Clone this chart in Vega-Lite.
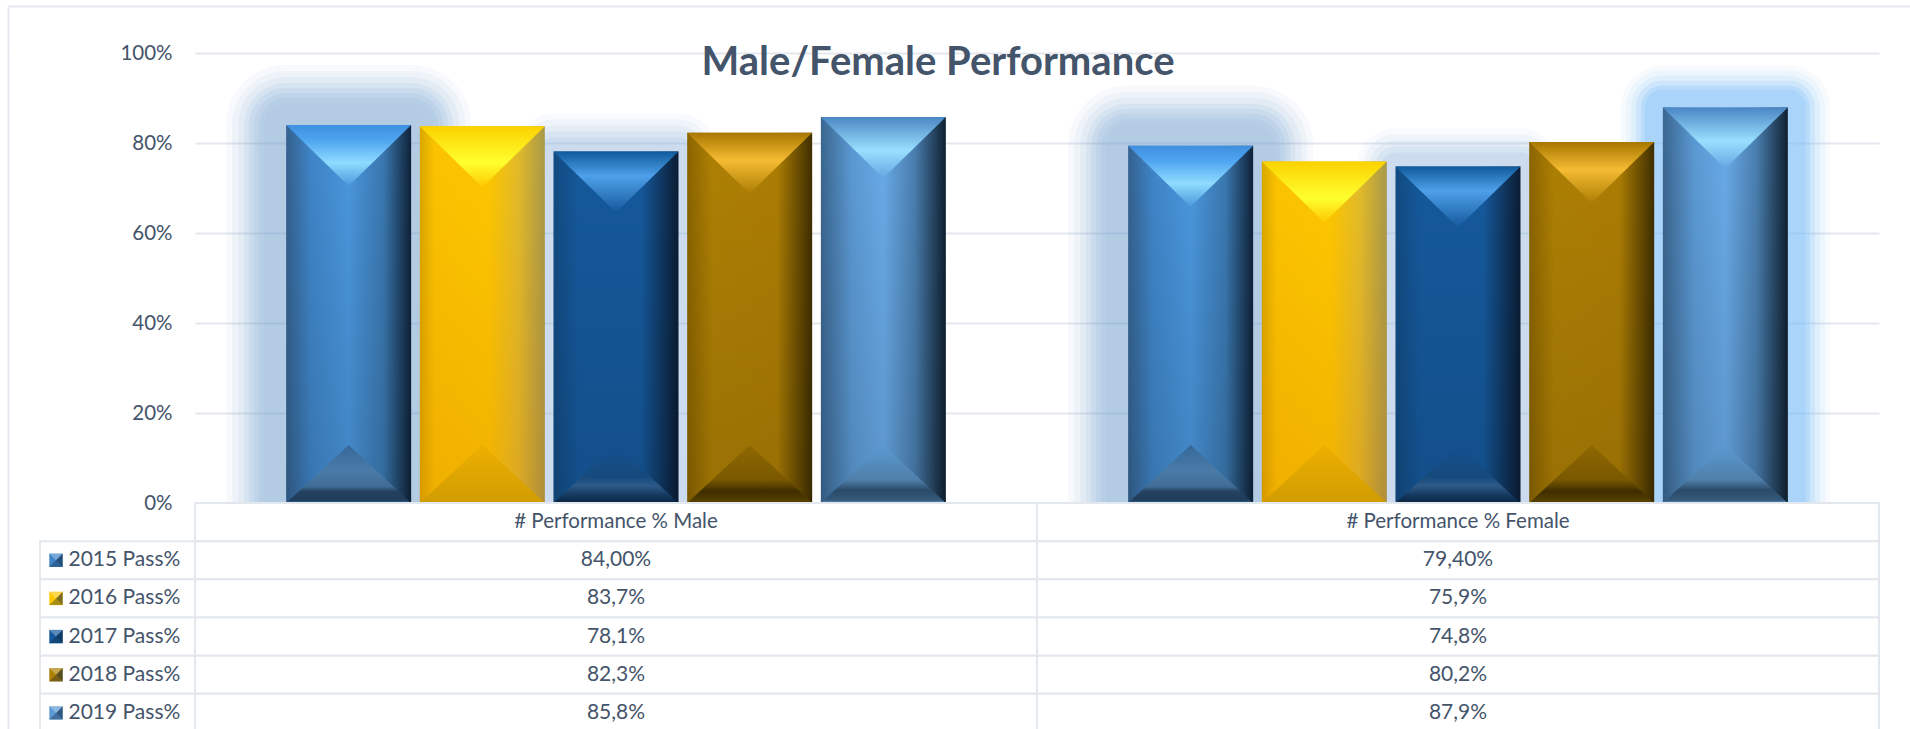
{
"$schema":"https://vega.github.io/schema/vega-lite/v6.json",
"background":"white",
"padding":{"left":8,"top":6,"right":0,"bottom":0},
"config":{"view":{"stroke":null},"font":"Lato"},
"datasets":{
"bars":[
{"category":"# Performance % Male","year":"2015 Pass%","value":0.84,"label":"84,00%"},
{"category":"# Performance % Male","year":"2016 Pass%","value":0.837,"label":"83,7%"},
{"category":"# Performance % Male","year":"2017 Pass%","value":0.781,"label":"78,1%"},
{"category":"# Performance % Male","year":"2018 Pass%","value":0.823,"label":"82,3%"},
{"category":"# Performance % Male","year":"2019 Pass%","value":0.858,"label":"85,8%"},
{"category":"# Performance % Female","year":"2015 Pass%","value":0.794,"label":"79,40%"},
{"category":"# Performance % Female","year":"2016 Pass%","value":0.759,"label":"75,9%"},
{"category":"# Performance % Female","year":"2017 Pass%","value":0.748,"label":"74,8%"},
{"category":"# Performance % Female","year":"2018 Pass%","value":0.802,"label":"80,2%"},
{"category":"# Performance % Female","year":"2019 Pass%","value":0.879,"label":"87,9%"}
],
"table":[
{"category":"# Performance % Male","row":"header","label":"# Performance % Male"},
{"category":"# Performance % Female","row":"header","label":"# Performance % Female"},
{"category":"# Performance % Male","row":"2015 Pass%","label":"84,00%"},
{"category":"# Performance % Male","row":"2016 Pass%","label":"83,7%"},
{"category":"# Performance % Male","row":"2017 Pass%","label":"78,1%"},
{"category":"# Performance % Male","row":"2018 Pass%","label":"82,3%"},
{"category":"# Performance % Male","row":"2019 Pass%","label":"85,8%"},
{"category":"# Performance % Female","row":"2015 Pass%","label":"79,40%"},
{"category":"# Performance % Female","row":"2016 Pass%","label":"75,9%"},
{"category":"# Performance % Female","row":"2017 Pass%","label":"74,8%"},
{"category":"# Performance % Female","row":"2018 Pass%","label":"80,2%"},
{"category":"# Performance % Female","row":"2019 Pass%","label":"87,9%"}
],
"legendRows":[{"year":"2015 Pass%"},{"year":"2016 Pass%"},{"year":"2017 Pass%"},{"year":"2018 Pass%"},{"year":"2019 Pass%"}]
},
"spacing":0,
"bounds":"flush",
"vconcat":[
{"width":1902,"height":47,"data":{"values":[]},
"mark":"rect",
"encoding":{"x":{"field":"a","type":"quantitative","scale":{"domain":[0,1]},"axis":{"orient":"top","title":null,"labels":false,"ticks":false,"grid":false,"domain":true,"domainColor":"#e3e7ee","domainWidth":2}},
"y":{"field":"b","type":"quantitative","scale":{"domain":[0,1]},"axis":{"orient":"left","title":null,"labels":false,"ticks":false,"grid":false,"domain":true,"domainColor":"#e3e7ee","domainWidth":2}}}},
{"columns":4,"spacing":0,"bounds":"flush","concat":[
{"width":32,"height":450,"data":{"values":[]},"mark":"rect","encoding":{"y":{"field":"b","type":"quantitative","scale":{"domain":[0,1]},"axis":{"orient":"left","title":null,"labels":false,"ticks":false,"grid":false,"domain":true,"domainColor":"#e3e7ee","domainWidth":2}}}},
{"width":155,"height":450,"data":{"values":[]},"mark":"rect","encoding":{}},
{"width":1684,"height":450,"data":{"name":"bars"},
"title":{"text":"Male/Female Performance","font":"Lato","fontSize":40,"fontWeight":"bold","color":"#44546a","anchor":"middle","frame":"group","baseline":"middle","dx":-99,"offset":-60},
"encoding":{
"x":{"field":"category","type":"nominal","sort":["# Performance % Male","# Performance % Female"],"axis":null,"scale":{"paddingInner":0.207,"paddingOuter":0.1035}},
"xOffset":{"field":"year","type":"nominal","scale":{"domain":["2015 Pass%","2016 Pass%","2017 Pass%","2018 Pass%","2019 Pass%"],"paddingInner":0.065,"paddingOuter":0.03}},
"y":{"field":"value","type":"quantitative","scale":{"domain":[0,1]},"axis":{"values":[0,0.2,0.4,0.6,0.8,1],"format":".0%","title":null,"domain":false,"ticks":false,"labelFont":"Lato","labelFontSize":20.5,"labelColor":"#44546a","labelPadding":23,"grid":true,"gridColor":"#e3e7ee","gridWidth":2}}
},
"layer":[
{"transform":[{"filter":"datum.year=='2015 Pass%'"}],"mark":{"type":"bar","clip":true,"color":"#6f9fd0","opacity":0.05,"strokeWidth":120,"stroke":"#6f9fd0","strokeJoin":"round"}},
{"transform":[{"filter":"datum.year=='2015 Pass%'"}],"mark":{"type":"bar","clip":true,"color":"#6f9fd0","opacity":0.06,"strokeWidth":108,"stroke":"#6f9fd0","strokeJoin":"round"}},
{"transform":[{"filter":"datum.year=='2015 Pass%'"}],"mark":{"type":"bar","clip":true,"color":"#6f9fd0","opacity":0.08,"strokeWidth":96,"stroke":"#6f9fd0","strokeJoin":"round"}},
{"transform":[{"filter":"datum.year=='2015 Pass%'"}],"mark":{"type":"bar","clip":true,"color":"#6f9fd0","opacity":0.1,"strokeWidth":84,"stroke":"#6f9fd0","strokeJoin":"round"}},
{"transform":[{"filter":"datum.year=='2015 Pass%'"}],"mark":{"type":"bar","clip":true,"color":"#6f9fd0","opacity":0.11,"strokeWidth":74,"stroke":"#6f9fd0","strokeJoin":"round"}},
{"transform":[{"filter":"datum.year=='2015 Pass%'"}],"mark":{"type":"bar","clip":true,"color":"#6f9fd0","opacity":0.11,"strokeWidth":64,"stroke":"#6f9fd0","strokeJoin":"round"}},
{"transform":[{"filter":"datum.year=='2015 Pass%'"}],"mark":{"type":"bar","clip":true,"color":"#6f9fd0","opacity":0.09,"strokeWidth":54,"stroke":"#6f9fd0","strokeJoin":"round"}},
{"transform":[{"filter":"datum.year=='2015 Pass%'"}],"mark":{"type":"bar","clip":true,"color":"#6f9fd0","opacity":0.05,"strokeWidth":44,"stroke":"#6f9fd0","strokeJoin":"round"}},
{"transform":[{"filter":"datum.year=='2017 Pass%'"}],"mark":{"type":"bar","clip":true,"color":"#8fb5dd","opacity":0.05,"strokeWidth":76,"stroke":"#8fb5dd","strokeJoin":"round"}},
{"transform":[{"filter":"datum.year=='2017 Pass%'"}],"mark":{"type":"bar","clip":true,"color":"#8fb5dd","opacity":0.08,"strokeWidth":64,"stroke":"#8fb5dd","strokeJoin":"round"}},
{"transform":[{"filter":"datum.year=='2017 Pass%'"}],"mark":{"type":"bar","clip":true,"color":"#8fb5dd","opacity":0.11,"strokeWidth":52,"stroke":"#8fb5dd","strokeJoin":"round"}},
{"transform":[{"filter":"datum.year=='2017 Pass%'"}],"mark":{"type":"bar","clip":true,"color":"#8fb5dd","opacity":0.14,"strokeWidth":40,"stroke":"#8fb5dd","strokeJoin":"round"}},
{"transform":[{"filter":"datum.year=='2017 Pass%'"}],"mark":{"type":"bar","clip":true,"color":"#8fb5dd","opacity":0.15,"strokeWidth":28,"stroke":"#8fb5dd","strokeJoin":"round"}},
{"transform":[{"filter":"datum.year=='2019 Pass%' && datum.value>0.87"}],"mark":{"type":"bar","clip":true,"color":"#7fc0fa","opacity":0.05,"strokeWidth":84,"stroke":"#7fc0fa","strokeJoin":"round"}},
{"transform":[{"filter":"datum.year=='2019 Pass%' && datum.value>0.87"}],"mark":{"type":"bar","clip":true,"color":"#7fc0fa","opacity":0.08,"strokeWidth":74,"stroke":"#7fc0fa","strokeJoin":"round"}},
{"transform":[{"filter":"datum.year=='2019 Pass%' && datum.value>0.87"}],"mark":{"type":"bar","clip":true,"color":"#7fc0fa","opacity":0.12,"strokeWidth":64,"stroke":"#7fc0fa","strokeJoin":"round"}},
{"transform":[{"filter":"datum.year=='2019 Pass%' && datum.value>0.87"}],"mark":{"type":"bar","clip":true,"color":"#7fc0fa","opacity":0.18,"strokeWidth":54,"stroke":"#7fc0fa","strokeJoin":"round"}},
{"transform":[{"filter":"datum.year=='2019 Pass%' && datum.value>0.87"}],"mark":{"type":"bar","clip":true,"color":"#7fc0fa","opacity":0.25,"strokeWidth":44,"stroke":"#7fc0fa","strokeJoin":"round"}},
{"transform":[{"filter":"datum.year=='2019 Pass%' && datum.value>0.87"}],"mark":{"type":"bar","clip":true,"color":"#7fc0fa","opacity":0.25,"strokeWidth":36,"stroke":"#7fc0fa","strokeJoin":"round"}},

{"transform":[{"filter":"datum.year=='2015 Pass%'"}],"mark":{"type":"bar","fill":{"gradient":"linear","x1":0,"x2":1,"y1":0,"y2":0,"stops":[{"offset":0,"color":"#34618f"},{"offset":0.2,"color":"#3f85c8"},{"offset":0.5,"color":"#4a97dd"},{"offset":0.78,"color":"#3a78b0"},{"offset":1,"color":"#0f2238"}]}}},
{"transform":[{"filter":"datum.year=='2016 Pass%'"}],"mark":{"type":"bar","fill":{"gradient":"linear","x1":0,"x2":1,"y1":0,"y2":0,"stops":[{"offset":0,"color":"#d9a800"},{"offset":0.12,"color":"#fbc400"},{"offset":0.55,"color":"#fdc800"},{"offset":0.78,"color":"#e3bc2a"},{"offset":1,"color":"#a89a4a"}]}}},
{"transform":[{"filter":"datum.year=='2017 Pass%'"}],"mark":{"type":"bar","fill":{"gradient":"linear","x1":0,"x2":1,"y1":0,"y2":0,"stops":[{"offset":0,"color":"#124a80"},{"offset":0.2,"color":"#15599c"},{"offset":0.7,"color":"#15599c"},{"offset":1,"color":"#0b1c33"}]}}},
{"transform":[{"filter":"datum.year=='2018 Pass%'"}],"mark":{"type":"bar","fill":{"gradient":"linear","x1":0,"x2":1,"y1":0,"y2":0,"stops":[{"offset":0,"color":"#8a6400"},{"offset":0.2,"color":"#ae8004"},{"offset":0.72,"color":"#ad7e04"},{"offset":1,"color":"#3f2e00"}]}}},
{"transform":[{"filter":"datum.year=='2019 Pass%'"}],"mark":{"type":"bar","fill":{"gradient":"linear","x1":0,"x2":1,"y1":0,"y2":0,"stops":[{"offset":0,"color":"#3b6690"},{"offset":0.25,"color":"#5b9ad4"},{"offset":0.5,"color":"#69abe8"},{"offset":0.75,"color":"#4a7fb0"},{"offset":1,"color":"#0f2030"}]}}},

{"transform":[{"filter":"datum.year=='2016 Pass%'"}],"mark":{"type":"bar","fill":{"gradient":"linear","x1":0,"x2":0,"y1":0,"y2":1,"stops":[{"offset":0,"color":"rgba(200,100,0,0)"},{"offset":1,"color":"rgba(200,100,0,0.22)"}]}}},
{"transform":[{"filter":"datum.year!='2016 Pass%'"}],"mark":{"type":"bar","fill":{"gradient":"linear","x1":0,"x2":0,"y1":0,"y2":1,"stops":[{"offset":0,"color":"rgba(0,0,0,0)"},{"offset":1,"color":"rgba(0,0,0,0.12)"}]}}},

{"transform":[{"filter":"datum.year=='2015 Pass%'"}],"mark":{"type":"point","filled":true,"opacity":1,"size":15625,"shape":"M-1,0L1,0L0,0.976Z","fill":{"gradient":"linear","x1":0,"x2":0,"y1":0,"y2":1,"stops":[{"offset":0,"color":"#3f8fdf"},{"offset":0.25,"color":"#4ea5f0"},{"offset":0.62,"color":"#8fdcff"},{"offset":1,"color":"#4a97dd"}]}}},
{"transform":[{"filter":"datum.year=='2016 Pass%'"}],"mark":{"type":"point","filled":true,"opacity":1,"size":15625,"shape":"M-1,0L1,0L0,0.976Z","fill":{"gradient":"linear","x1":0,"x2":0,"y1":0,"y2":1,"stops":[{"offset":0,"color":"#fbd200"},{"offset":0.6,"color":"#ffff2e"},{"offset":1,"color":"#fdc800"}]}}},
{"transform":[{"filter":"datum.year=='2017 Pass%'"}],"mark":{"type":"point","filled":true,"opacity":1,"size":15625,"shape":"M-1,0L1,0L0,0.976Z","fill":{"gradient":"linear","x1":0,"x2":0,"y1":0,"y2":1,"stops":[{"offset":0,"color":"#0f5a9c"},{"offset":0.4,"color":"#4ea0ea"},{"offset":1,"color":"#15599c"}]}}},
{"transform":[{"filter":"datum.year=='2018 Pass%'"}],"mark":{"type":"point","filled":true,"opacity":1,"size":15625,"shape":"M-1,0L1,0L0,0.976Z","fill":{"gradient":"linear","x1":0,"x2":0,"y1":0,"y2":1,"stops":[{"offset":0,"color":"#a87700"},{"offset":0.45,"color":"#f5bb33"},{"offset":1,"color":"#ad7e04"}]}}},
{"transform":[{"filter":"datum.year=='2019 Pass%'"}],"mark":{"type":"point","filled":true,"opacity":1,"size":15625,"shape":"M-1,0L1,0L0,0.976Z","fill":{"gradient":"linear","x1":0,"x2":0,"y1":0,"y2":1,"stops":[{"offset":0,"color":"#4b86c4"},{"offset":0.55,"color":"#99e0ff"},{"offset":1,"color":"#65a6e2"}]}}},

{"transform":[{"filter":"datum.year=='2015 Pass%'"}],"mark":{"type":"point","filled":true,"opacity":1,"size":15625,"shape":"M-1,0L1,0L0,-0.93Z","fill":{"gradient":"linear","x1":0,"x2":0,"y1":0,"y2":1,"stops":[{"offset":0,"color":"#35689a"},{"offset":0.45,"color":"#4a7ba8"},{"offset":0.72,"color":"#3f6c96"},{"offset":0.8,"color":"#24425f"},{"offset":0.95,"color":"#1f3d5a"},{"offset":1,"color":"#34618f"}]}},"encoding":{"y":{"datum":0}}},
{"transform":[{"filter":"datum.year=='2016 Pass%'"}],"mark":{"type":"point","filled":true,"opacity":1,"size":15625,"shape":"M-1,0L1,0L0,-0.93Z","fill":{"gradient":"linear","x1":0,"x2":0,"y1":0,"y2":1,"stops":[{"offset":0,"color":"#eeb000"},{"offset":1,"color":"#d09c00"}]}},"encoding":{"y":{"datum":0}}},
{"transform":[{"filter":"datum.year=='2017 Pass%'"}],"mark":{"type":"point","filled":true,"opacity":1,"size":15625,"shape":"M-1,0L1,0L0,-0.93Z","fill":{"gradient":"linear","x1":0,"x2":0,"y1":0,"y2":1,"stops":[{"offset":0,"color":"#135090"},{"offset":0.55,"color":"#164a7c"},{"offset":0.7,"color":"#2d5a88"},{"offset":0.88,"color":"#12365c"},{"offset":1,"color":"#0a2540"}]}},"encoding":{"y":{"datum":0}}},
{"transform":[{"filter":"datum.year=='2018 Pass%'"}],"mark":{"type":"point","filled":true,"opacity":1,"size":15625,"shape":"M-1,0L1,0L0,-0.93Z","fill":{"gradient":"linear","x1":0,"x2":0,"y1":0,"y2":1,"stops":[{"offset":0,"color":"#8e6800"},{"offset":0.6,"color":"#7a5800"},{"offset":0.8,"color":"#3f2d00"},{"offset":1,"color":"#5a4300"}]}},"encoding":{"y":{"datum":0}}},
{"transform":[{"filter":"datum.year=='2019 Pass%'"}],"mark":{"type":"point","filled":true,"opacity":1,"size":15625,"shape":"M-1,0L1,0L0,-0.93Z","fill":{"gradient":"linear","x1":0,"x2":0,"y1":0,"y2":1,"stops":[{"offset":0,"color":"#5b9ad4"},{"offset":0.6,"color":"#4f7faa"},{"offset":0.78,"color":"#2a4a68"},{"offset":0.95,"color":"#34597a"},{"offset":1,"color":"#5f8fb8"}]}},"encoding":{"y":{"datum":0}}}
]
},
{"width":21,"height":450,"data":{"values":[]},"mark":"rect","encoding":{}},
{"width":32,"height":229,"data":{"values":[]},"mark":"rect","encoding":{"y":{"field":"b","type":"quantitative","scale":{"domain":[0,1]},"axis":{"orient":"left","title":null,"labels":false,"ticks":false,"grid":false,"domain":true,"domainColor":"#e3e7ee","domainWidth":2}}}},
{"width":155,"height":229,"data":{"name":"legendRows"},
"encoding":{"y":{"field":"year","type":"nominal","axis":null,"scale":{"domain":["header","2015 Pass%","2016 Pass%","2017 Pass%","2018 Pass%","2019 Pass%"],"paddingInner":0,"paddingOuter":0}}},
"layer":[
{"mark":{"type":"rect","fill":"white","stroke":"#e3e7ee","strokeWidth":2}},
{"mark":{"type":"square","filled":true,"size":180,"xOffset":-61.5,"opacity":1},"encoding":{"fill":{"field":"year","type":"nominal","legend":null,"scale":{"domain":["2015 Pass%","2016 Pass%","2017 Pass%","2018 Pass%","2019 Pass%"],"range":["#3f85c8","#fdc800","#15599c","#ae8004","#5b9ad4"]}}}},
{"mark":{"type":"point","filled":true,"size":180,"xOffset":-61.5,"opacity":0.55,"color":"#10233a","shape":"M1,-1L1,1L0,0Z"}},
{"mark":{"type":"point","filled":true,"size":180,"xOffset":-61.5,"opacity":0.35,"color":"#10233a","shape":"M-1,1L1,1L0,0Z"}},
{"mark":{"type":"point","filled":true,"size":180,"xOffset":-61.5,"opacity":0.3,"color":"#ffffff","shape":"M-1,-1L1,-1L0,0Z"}},
{"mark":{"type":"text","align":"left","baseline":"middle","dx":-49,"fontSize":21,"font":"Lato","color":"#44546a"},"encoding":{"text":{"field":"year"}}}
]},
{"width":1684,"height":229,"data":{"name":"table"},
"encoding":{
"x":{"field":"category","type":"nominal","sort":["# Performance % Male","# Performance % Female"],"axis":null,"scale":{"paddingInner":0,"paddingOuter":0}},
"y":{"field":"row","type":"nominal","axis":null,"scale":{"domain":["header","2015 Pass%","2016 Pass%","2017 Pass%","2018 Pass%","2019 Pass%"],"paddingInner":0,"paddingOuter":0}}
},
"layer":[
{"mark":{"type":"rect","fill":"white","stroke":"#e3e7ee","strokeWidth":2}},
{"mark":{"type":"text","baseline":"middle","font":"Lato","color":"#44546a"},"encoding":{"text":{"field":"label"},"size":{"condition":{"test":"datum.row=='header'","value":20.5},"value":21}}}
]},
{"width":21,"height":229,"data":{"values":[]},"mark":"rect","encoding":{}}
]}
]
}
